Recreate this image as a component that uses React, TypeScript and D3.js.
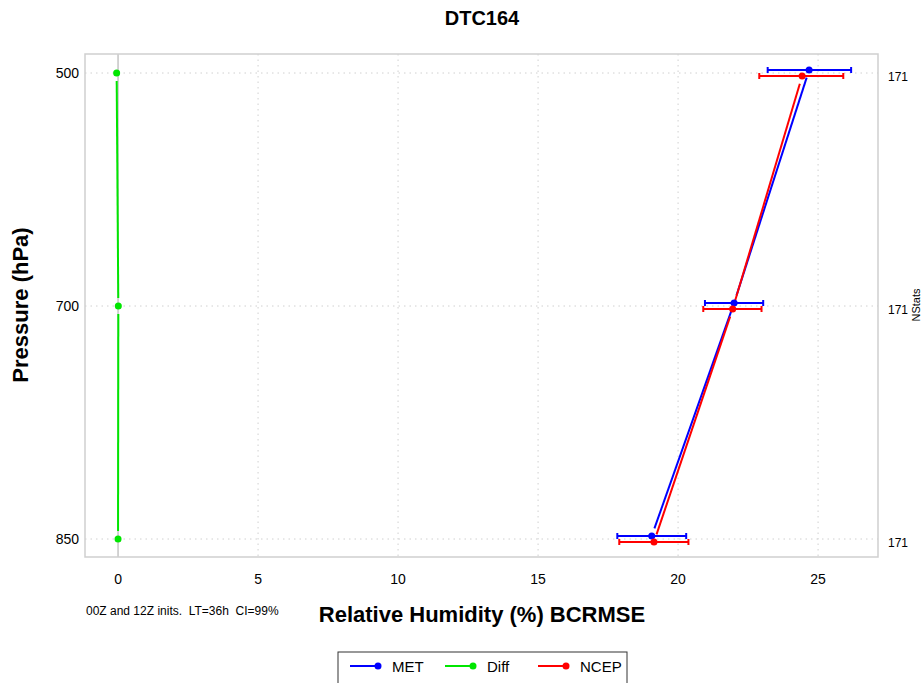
import React from "react";
import * as d3 from "d3";

const levels = ["500", "700", "850"];
const metVals = [24.68, 22.0, 19.06];
const metLo = [23.2, 20.96, 17.83];
const metHi = [26.18, 23.04, 20.29];
const ncepVals = [24.43, 21.95, 19.14];
const ncepLo = [22.9, 20.9, 17.9];
const ncepHi = [25.9, 22.98, 20.37];
const diffVals = [-0.05, 0.01, 0.0];
const nStats = [171, 171, 171];
const xTicks = [0, 5, 10, 15, 20, 25];

const W = 921;
const H = 683;
const plot = { left: 85, right: 878, top: 54, bottom: 557 };
const FONT = "'Liberation Sans', Arial, Helvetica, sans-serif";

const x = d3.scaleLinear().domain([-1.18, 27.14]).range([plot.left, plot.right]);
const y = d3.scalePoint<string>().domain(levels).range([73, 539]).padding(0);

type Series = {
  name: string;
  color: string;
  vals: number[];
  lo?: number[];
  hi?: number[];
  dy: number;
};

const series: Series[] = [
  { name: "MET", color: "#0000ff", vals: metVals, lo: metLo, hi: metHi, dy: -3 },
  { name: "NCEP", color: "#ff0000", vals: ncepVals, lo: ncepLo, hi: ncepHi, dy: 3 },
  { name: "Diff", color: "#00e600", vals: diffVals, dy: 0 },
];

function gapSegments(pts: [number, number][], gap: number) {
  const segs: string[] = [];
  for (let i = 0; i < pts.length - 1; i++) {
    const [x1, y1] = pts[i];
    const [x2, y2] = pts[i + 1];
    const dx = x2 - x1;
    const dy = y2 - y1;
    const len = Math.sqrt(dx * dx + dy * dy);
    if (len <= 2 * gap) continue;
    const ux = dx / len;
    const uy = dy / len;
    const line = d3.line();
    segs.push(
      line([
        [x1 + ux * gap, y1 + uy * gap],
        [x2 - ux * gap, y2 - uy * gap],
      ]) as string
    );
  }
  return segs;
}

export default function App() {
  const legendItems = [
    { name: "MET", color: "#0000ff", x: 350 },
    { name: "Diff", color: "#00e600", x: 445 },
    { name: "NCEP", color: "#ff0000", x: 538 },
  ];
  return (
    <svg
      width={W}
      height={H}
      style={{ position: "absolute", left: 0, top: 0, background: "#fff" }}
      fontFamily={FONT}
    >
      <rect x={0} y={0} width={W} height={H} fill="#fff" />
      {/* grid */}
      {xTicks
        .filter((t) => t !== 0)
        .map((t) => (
          <line
            key={"gx" + t}
            x1={x(t)}
            x2={x(t)}
            y1={plot.top}
            y2={plot.bottom}
            stroke="#d0d0d0"
            strokeWidth={1}
            strokeDasharray="1.5,4"
          />
        ))}
      {levels.map((l) => (
        <line
          key={"gy" + l}
          x1={plot.left}
          x2={plot.right}
          y1={y(l)}
          y2={y(l)}
          stroke="#d0d0d0"
          strokeWidth={1}
          strokeDasharray="1.5,4"
        />
      ))}
      {/* zero line */}
      <line x1={x(0)} x2={x(0)} y1={plot.top} y2={plot.bottom} stroke="#a8a8a8" strokeWidth={1} />
      {/* border */}
      <rect
        x={plot.left}
        y={plot.top}
        width={plot.right - plot.left}
        height={plot.bottom - plot.top}
        fill="none"
        stroke="#cfcfcf"
        strokeWidth={1.5}
      />
      {/* y tick labels */}
      {levels.map((l) => (
        <text key={"yl" + l} x={79} y={(y(l) as number) + 5} textAnchor="end" fontSize={14} fill="#000">
          {l}
        </text>
      ))}
      {/* x tick labels */}
      {xTicks.map((t) => (
        <text key={"xl" + t} x={x(t)} y={584} textAnchor="middle" fontSize={14} fill="#000">
          {t}
        </text>
      ))}
      {/* right NStats labels */}
      {levels.map((l, i) => (
        <text key={"ns" + l} x={888} y={(y(l) as number) + 8} fontSize={12} fill="#000">
          {nStats[i]}
        </text>
      ))}
      <text
        transform={`translate(920,305) rotate(-90)`}
        textAnchor="middle"
        fontSize={11}
        fill="#000"
      >
        NStats
      </text>
      {/* series lines */}
      {series.map((s) => {
        const pts: [number, number][] = s.vals.map((v, i) => [x(v), (y(levels[i]) as number) + s.dy]);
        return (
          <g key={s.name}>
            {gapSegments(pts, 8).map((d, i) => (
              <path key={i} d={d} stroke={s.color} strokeWidth={2} fill="none" />
            ))}
          </g>
        );
      })}
      {/* error bars */}
      {series
        .filter((s) => s.lo && s.hi)
        .map((s) => (
          <g key={"eb" + s.name}>
            {s.vals.map((_, i) => {
              const yy = (y(levels[i]) as number) + s.dy;
              const x1 = x(s.lo![i]);
              const x2 = x(s.hi![i]);
              return (
                <g key={i}>
                  <line x1={x1} x2={x2} y1={yy} y2={yy} stroke={s.color} strokeWidth={2} />
                  <line x1={x1} x2={x1} y1={yy - 3} y2={yy + 3} stroke={s.color} strokeWidth={2} />
                  <line x1={x2} x2={x2} y1={yy - 3} y2={yy + 3} stroke={s.color} strokeWidth={2} />
                </g>
              );
            })}
          </g>
        ))}
      {/* points */}
      {series.map((s) => (
        <g key={"pt" + s.name}>
          {s.vals.map((v, i) => (
            <circle key={i} cx={x(v)} cy={(y(levels[i]) as number) + s.dy} r={3.5} fill={s.color} />
          ))}
        </g>
      ))}
      {/* title */}
      <text x={482} y={25} textAnchor="middle" fontSize={20} fontWeight="bold" fill="#000">
        DTC164
      </text>
      {/* axis titles */}
      <text x={482} y={622} textAnchor="middle" fontSize={22} fontWeight="bold" fill="#000">
        Relative Humidity (%) BCRMSE
      </text>
      <text
        transform={`translate(28,305) rotate(-90)`}
        textAnchor="middle"
        fontSize={22}
        fontWeight="bold"
        fill="#000"
      >
        Pressure (hPa)
      </text>
      <text x={86} y={615} fontSize={12} fill="#000" style={{ whiteSpace: "pre" }}>
        {"00Z and 12Z inits.  LT=36h  CI=99%"}
      </text>
      {/* legend */}
      <rect x={338} y={652} width={289} height={45} fill="#fff" stroke="#333" strokeWidth={1} />
      {legendItems.map((it) => (
        <g key={"lg" + it.name}>
          <line x1={it.x} x2={it.x + 28} y1={666} y2={666} stroke={it.color} strokeWidth={2} />
          <circle cx={it.x + 28} cy={666} r={3.5} fill={it.color} />
          <text x={it.x + 42} y={672} fontSize={15} fill="#000">
            {it.name}
          </text>
        </g>
      ))}
    </svg>
  );
}
